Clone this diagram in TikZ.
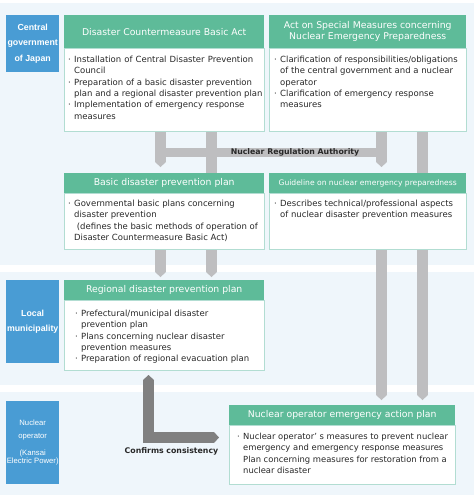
\documentclass[tikz,border=0pt]{standalone}
\usepackage{fontspec}
\setmainfont{DejaVu Sans}
\newfontfamily\sidefont{Liberation Sans}
\usetikzlibrary{arrows.meta}
\definecolor{bandblue}{RGB}{239,246,251}
\definecolor{headgreen}{RGB}{94,187,153}
\definecolor{sideblue}{RGB}{73,156,212}
\definecolor{edgeteal}{RGB}{178,221,210}
\definecolor{bargray}{RGB}{190,190,192}
\definecolor{bardark}{RGB}{128,128,128}
\definecolor{txt}{RGB}{40,40,40}
\newcommand\bul{\makebox[6pt][l]{·}}
\newcommand\ind{\hspace*{6pt}}
\pgfdeclarelayer{bands}
\pgfdeclarelayer{bars}
\pgfsetlayers{bands,bars,main}
\tikzset{
  head/.style={fill=headgreen, text=white, inner sep=0pt, anchor=north west, align=center,
    font=\fontsize{9.3}{11}\selectfont},
  body/.style={draw=edgeteal, line width=0.6pt, fill=white, inner sep=0pt, anchor=north west},
  items/.style={anchor=north west, inner sep=0pt, align=left, text=txt,
    font=\fontsize{8.5}{11.3}\selectfont},
  side/.style={fill=sideblue, text=white, anchor=north west, inner sep=0pt, align=center,
    minimum width=53pt, font=\sidefont\bfseries\fontsize{8.8}{15.5}\selectfont},
  bar/.style={line width=11pt, draw=bargray},
  barhead/.style={-{Triangle[length=5pt,width=11pt,line width=0pt]}},
  note/.style={text=txt, font=\bfseries\fontsize{7.8}{9}\selectfont, inner sep=0pt},
}
\begin{document}
\begin{tikzpicture}[x=1pt,y=-1pt]
    \useasboundingbox (0,0) rectangle (474,498);
    %% background bands
    \begin{pgfonlayer}{bands}
        \fill[bandblue] (0,3) rectangle (474,265);
        \fill[bandblue] (0,272) rectangle (474,385);
        \fill[bandblue] (0,392) rectangle (474,495);
    \end{pgfonlayer}
    %% side labels
    \node[side, minimum height=57pt] (gov) at (6,15) {Central\\government\\of Japan};
    \node[side, minimum height=83pt] (local) at (6,280) {Local\\municipality};
    \node[side, minimum height=83pt, font=\sidefont\fontsize{7.7}{8.5}\selectfont] (oper) at (6,401)
        {Nuclear\\[5pt]operator\\[8pt](Kansai\\Electric Power)};
    %% Disaster Countermeasure Basic Act
    \node[head, minimum width=200pt, minimum height=33pt] (dcbah) at (64,15) {Disaster Countermeasure Basic Act};
    \node[body, minimum width=200pt, minimum height=83pt] (dcba) at (dcbah.south west) {};
    \node[items] (dcbat) at (68,56) {\bul \makebox[179pt][s]{Installation of Central Disaster Prevention}\\
        \ind Council\\
        \bul Preparation of a basic disaster prevention\\
        \ind plan and a regional disaster prevention plan\\
        \bul Implementation of emergency response\\
        \ind measures};
    %% Act on Special Measures
    \node[head, minimum width=197pt, minimum height=33pt] (smah) at (269,15) {Act on Special Measures concerning\\Nuclear Emergency Preparedness};
    \node[body, minimum width=197pt, minimum height=83pt] (sma) at (smah.south west) {};
    \node[items] (smat) at (274,56) {\bul Clarification of responsibilities/obligations\\
        \ind of the central government and a nuclear\\
        \ind operator\\
        \bul Clarification of emergency response\\
        \ind measures};
    %% Basic disaster prevention plan
    \node[head, minimum width=200pt, minimum height=20pt] (bdpph) at (64,173) {Basic disaster prevention plan};
    \node[body, minimum width=200pt, minimum height=56pt] (bdpp) at (bdpph.south west) {};
    \node[items] (bdppt) at (68,200) {\bul Governmental basic plans concerning\\
        \ind disaster prevention\\
        \ind\ (defines the basic methods of operation of\\
        \ind Disaster Countermeasure Basic Act)};
    %% Guideline
    \node[head, minimum width=197pt, minimum height=20pt, font=\fontsize{7.6}{9}\selectfont] (guideh) at (269,173) {Guideline on nuclear emergency preparedness};
    \node[body, minimum width=197pt, minimum height=56pt] (guide) at (guideh.south west) {};
    \node[items] (guidet) at (274,200) {\bul Describes technical/professional aspects\\
        \ind of nuclear disaster prevention measures};
    %% Regional disaster prevention plan
    \node[head, minimum width=200pt, minimum height=20pt] (rdpph) at (64,280) {Regional disaster prevention plan};
    \node[body, minimum width=200pt, minimum height=70pt] (rdpp) at (rdpph.south west) {};
    \node[items] (rdppt) at (75,310) {\bul Prefectural/municipal disaster\\
        \ind prevention plan\\
        \bul Plans concerning nuclear disaster\\
        \ind prevention measures\\
        \bul Preparation of regional evacuation plan};
    %% Nuclear operator emergency action plan
    \node[head, minimum width=226pt, minimum height=20pt] (oeaph) at (229,405) {Nuclear operator emergency action plan};
    \node[body, minimum width=226pt, minimum height=59pt] (oeap) at (oeaph.south west) {};
    \node[items, font=\fontsize{8.4}{11.3}\selectfont] (oeapt) at (237,433) {\bul Nuclear operator’ s measures to prevent nuclear\\
        \ind emergency and emergency response measures\\
        \ind Plan concerning measures for restoration from a\\
        \ind nuclear disaster};
    %% labels on the arrows
    \node[note] (nra) at (295,152) {Nuclear Regulation Authority};
    \node[note] (cons) at (171.5,451) {Confirms consistency};
    %% arrows
    \coordinate (c1) at (160.5,0);
    \coordinate (c2) at (211.5,0);
    \coordinate (c3) at (381.5,0);
    \coordinate (c4) at (422.5,0);
    \coordinate (cl) at (148.5,437.5);
    \begin{pgfonlayer}{bars}
        \draw[bar, line width=9pt] (c1 |- nra) -- (c3 |- nra);
        \draw[bar, barhead, shorten >=6pt] (dcba.south -| c1) -- (bdpph.north -| c1);
        \draw[bar] (dcba.south -| c2) -- (bdpph.north -| c2);
        \draw[bar, barhead, shorten >=6pt] (sma.south -| c3) -- (guideh.north -| c3);
        \draw[bar, barhead, shorten >=5pt] (sma.south -| c4) -- (oeaph.north -| c4);
        \draw[bar, barhead, shorten >=3pt] (bdpp.south -| c1) -- (rdpph.north -| c1);
        \draw[bar, barhead, shorten >=3pt] (bdpp.south -| c2) -- (rdpph.north -| c2);
        \draw[bar, barhead, shorten >=5pt] (guide.south -| c3) -- (oeaph.north -| c3);
        \draw[bar, draw=bardark, {Triangle[length=5pt,width=11pt,line width=0pt]}-{Triangle[length=5pt,width=11pt,line width=0pt]},
            shorten <=4pt, shorten >=10pt] (rdpp.south -| cl) |- (oeap.west |- cl);
    \end{pgfonlayer}
\end{tikzpicture}
\end{document}
